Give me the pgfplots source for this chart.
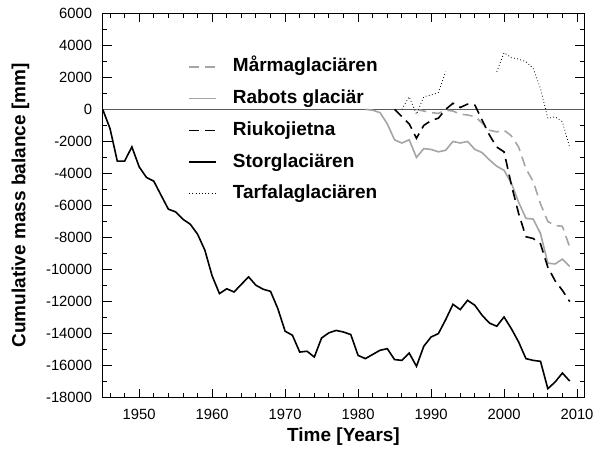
\documentclass[border=0pt]{standalone}
\usepackage{fontspec}
\setmainfont{Liberation Sans}
\usepackage{pgfplots}
\pgfplotsset{compat=1.18}
\definecolor{lgray}{RGB}{165,165,165}
\definecolor{zgray}{RGB}{90,90,90}
\begin{document}
\begin{tikzpicture}
\begin{axis}[
  name=ax,
  width=481.6pt, height=384.4pt, scale only axis,
  xmin=1945, xmax=2011, ymin=-18000, ymax=6000,
  scaled ticks=false,
  xtick={1950,1960,...,2010},
  minor xtick={1946,1948,...,2010},
  ytick={-18000,-16000,...,6000},
  minor ytick={-17000,-15000,...,5000},
  tick align=inside,
  major tick length=9pt, minor tick length=4.5pt,
  every tick/.style={black, line width=0.9pt},
  axis line style={line width=1.2pt},
  /pgf/number format/assume math mode=true,
  /pgf/number format/1000 sep={},
  tick label style={font=\fontsize{14.8}{16}\selectfont},
  xticklabel style={yshift=-8pt},
  yticklabel style={xshift=-7pt},
  every axis x label/.style={at={(axis description cs:0.5,-0.102)}, anchor=center},
  every axis y label/.style={at={(axis description cs:-0.1707,0.5)}, anchor=center, rotate=90},
  label style={font=\fontsize{19}{22}\selectfont\bfseries},
  xlabel={Time [Years]},
  ylabel={Cumulative mass balance [mm]},
  legend style={at={(axis cs:1956.3,3350)}, anchor=north west, draw=none, fill=none,
    font=\fontsize{19}{22}\selectfont\bfseries,
    nodes={inner sep=0pt, text height=14pt, text depth=4pt},
    row sep=13.7pt},
  legend cell align=left,
  /tikz/every odd column/.append style={column sep=16pt},
  legend image code/.code={\draw[#1] (0pt,0pt) -- (27pt,0pt);},
]
\addplot[forget plot, zgray, line width=0.9pt] coordinates {(1945,0) (2011,0)};

\addplot[lgray, line width=1.6pt, dash pattern=on 10pt off 6pt] coordinates {
(1988,0) (1989,-100) (1990,-200) (1991,-250) (1992,-50) (1993,-100) (1994,-300)
(1995,-350) (1996,-450) (1997,-850) (1998,-1300) (1999,-1400) (2000,-1300)
(2001,-1650) (2002,-2350) (2003,-3700) (2004,-4500) (2005,-5900) (2006,-7000)
(2007,-7250) (2008,-7300) (2009,-8600)};
\addlegendentry{Mårmaglaciären}

\addplot[lgray, line width=1.6pt] coordinates {
(1981,0) (1982,-50) (1983,-200) (1984,-900) (1985,-1900) (1986,-2100) (1987,-1900)
(1988,-3000) (1989,-2450) (1990,-2500) (1991,-2650) (1992,-2550) (1993,-2000)
(1994,-2100) (1995,-2000) (1996,-2500) (1997,-2700) (1998,-3150) (1999,-3550)
(2000,-3800) (2001,-4600) (2002,-5800) (2003,-6800) (2004,-6850) (2005,-7750)
(2006,-9600) (2007,-9650) (2008,-9350) (2009,-9800)};
\addlegendentry{Rabots glaciär}

\addplot[black, line width=1.6pt, dash pattern=on 10pt off 6pt] coordinates {
(1985,0) (1986,-450) (1987,-900) (1988,-1800) (1989,-1000) (1990,-700) (1991,-550)
(1992,0) (1993,380) (1994,120) (1995,330) (1996,270) (1997,-670) (1998,-1600)
(1999,-2350) (2000,-2650) (2001,-4700) (2002,-6500) (2003,-7950) (2004,-8060)
(2005,-8400) (2006,-9850) (2007,-10700) (2008,-11300) (2009,-12000)};
\addlegendentry{Riukojietna}

\addplot[black, line width=1.6pt] coordinates {
(1945,0) (1946,-1190) (1947,-3230) (1948,-3230) (1949,-2340) (1950,-3590)
(1951,-4250) (1952,-4480) (1953,-5360) (1954,-6230) (1955,-6400) (1956,-6860)
(1957,-7170) (1958,-7790) (1959,-8790) (1960,-10400) (1961,-11500) (1962,-11200)
(1963,-11400) (1964,-10920) (1965,-10460) (1966,-10980) (1967,-11230) (1968,-11360)
(1969,-12440) (1970,-13850) (1971,-14100) (1972,-15150) (1973,-15100) (1974,-15460)
(1975,-14270) (1976,-13950) (1977,-13800) (1978,-13900) (1979,-14060) (1980,-15360)
(1981,-15560) (1982,-15300) (1983,-15040) (1984,-14940) (1985,-15620) (1986,-15670)
(1987,-15210) (1988,-16040) (1989,-14790) (1990,-14210) (1991,-14000) (1992,-13130)
(1993,-12170) (1994,-12500) (1995,-11920) (1996,-12230) (1997,-12860) (1998,-13340)
(1999,-13540) (2000,-12960) (2001,-13690) (2002,-14520) (2003,-15560) (2004,-15670)
(2005,-15730) (2006,-17440) (2007,-17020) (2008,-16460) (2009,-16960)};
\addlegendentry{Storglaciären}

\addplot[black, line width=0.8pt, dash pattern=on 0.8pt off 2.4pt, unbounded coords=jump] coordinates {
(1986,0) (1987,790) (1988,-300) (1989,790) (1990,900) (1991,1050) (1992,2350)
(1993,nan)
(1999,2350) (2000,3540) (2001,3230) (2002,3140) (2003,2980) (2004,2560) (2005,1300)
(2006,-560) (2007,-460) (2008,-770) (2009,-2380)};
\addlegendentry{Tarfalaglaciären}
\end{axis}
\pgfresetboundingbox
\path ([xshift=-102.7pt,yshift=13.3pt]ax.north west) rectangle ([xshift=11.7pt,yshift=-64.3pt]ax.south east);
\end{tikzpicture}
\end{document}
